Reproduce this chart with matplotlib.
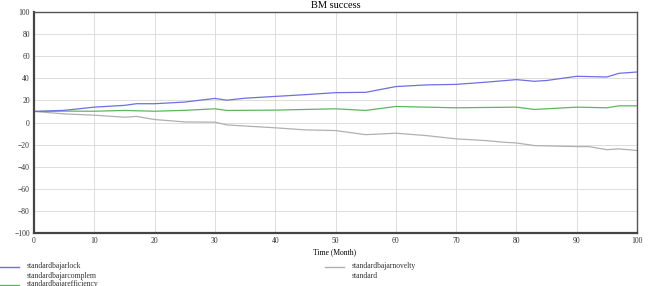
import matplotlib
matplotlib.use("Agg")
import matplotlib.pyplot as plt
from matplotlib.lines import Line2D

plt.rcParams['font.family'] = ['Liberation Serif', 'DejaVu Serif']

# values (month, value)
lock_t = [0, 5, 10, 15, 17, 20, 25, 30, 32, 35, 40, 45, 50, 55, 60, 65, 70, 75, 80, 83, 85, 90, 95, 97, 100]
lock_v = [10, 11, 13.9, 15.5, 17, 17, 18.5, 21.8, 20.2, 22, 23.6, 25.2, 27, 27.3, 32.5, 34, 34.5, 36.5, 38.8, 37.3, 38, 41.8, 41.2, 44.5, 45.7]

eff_t = [0, 5, 10, 15, 20, 25, 30, 32, 40, 50, 55, 60, 70, 80, 83, 90, 95, 97, 100]
eff_v = [10, 10.3, 10.2, 10.9, 10.2, 11, 12.4, 10.9, 11.2, 12.4, 10.9, 14.5, 13.3, 13.9, 11.8, 13.9, 13.3, 15.1, 15.1]

nov_t = [0, 5, 10, 15, 17, 20, 25, 30, 32, 40, 45, 50, 55, 60, 65, 70, 75, 78, 80, 83, 90, 92, 95, 97, 100]
nov_v = [10, 7.8, 6.6, 4.8, 5.5, 2.7, 0.5, 0.3, -2.2, -4.8, -6.7, -7.3, -11, -9.7, -11.8, -14.8, -16.4, -17.9, -18.5, -20.9, -21.8, -21.8, -24.6, -23.9, -25.3]

labels = ["standardbajarlock", "standardbajarcomplem", "standardbajarefficiency",
          "standardbajarnovelty", "standard"]
colors = ["#6f6fe0", "none", "#5cb85c", "#b0b0b0", "none"]

fig = plt.figure(figsize=(6.55, 2.86), dpi=100)
ax = fig.add_axes([34/655, 1 - 233/286, (637-34)/655, (233-12)/286])

ax.plot(nov_t, nov_v, color=colors[3], lw=0.9)
ax.plot(eff_t, eff_v, color=colors[2], lw=0.9)
ax.plot(lock_t, lock_v, color=colors[0], lw=0.9)

ax.set_xlim(0, 100)
ax.set_ylim(-100, 100)
ax.set_xticks(range(0, 101, 10))
ax.set_yticks(range(-100, 101, 20))
ax.grid(True, color="#d8d8d8", lw=0.6)
ax.tick_params(labelsize=5.5, length=0, pad=3, colors="#333333")
for side in ["left", "bottom"]:
    ax.spines[side].set_linewidth(1.6)
    ax.spines[side].set_color("#444444")
for side in ["right", "top"]:
    ax.spines[side].set_linewidth(1.0)
    ax.spines[side].set_color("#555555")

ax.set_title("BM success", fontsize=7.5, pad=3)
fig.text(335/655, 1 - 252/286, "Time (Month)", fontsize=5.5, ha="center", va="center")

# legend, two columns like the reference
rows = [266.5, 276, 284.5]
spots = [(0, rows[0]), (0, rows[1]), (0, rows[2]), (325, rows[0]), (325, rows[1])]
for (x0, yy), lab, col in zip(spots, labels, colors):
    yf = 1 - yy/286
    if col != "none":
        fig.add_artist(Line2D([x0/655, (x0+19)/655], [yf, yf], color=col, lw=1.0))
    fig.text((x0+27)/655, yf, lab, fontsize=5.5, va="center", ha="left", color="#333333")

fig.savefig("out.png", dpi=100)
